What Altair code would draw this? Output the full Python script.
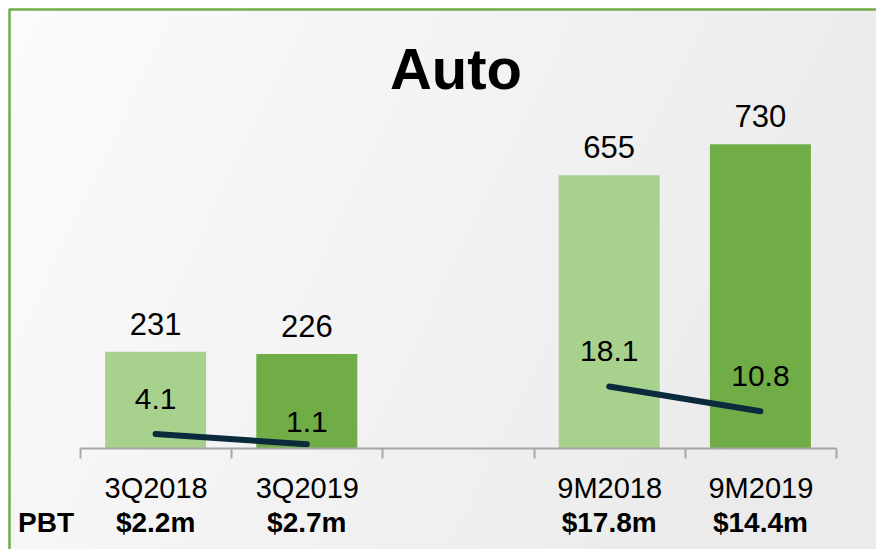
import altair as alt
import pandas as pd

categories = ["3Q2018", "3Q2019", " ", "9M2018", "9M2019"]
revenue = [231, 226, None, 655, 730]
pbt_margin = [4.1, 1.1, None, 18.1, 10.8]
pbt_labels = ["$2.2m", "$2.7m", "", "$17.8m", "$14.4m"]
period = ["3Q", "3Q", "", "9M", "9M"]
year = ["2018", "2019", "", "2018", "2019"]

df = pd.DataFrame({
    "cat": categories,
    "revenue": revenue,
    "margin": pbt_margin,
    "pbt": pbt_labels,
    "period": period,
    "year": year,
})

W, H = 756, 333
PL, PT, PR, PB = 72, 107, 40, 101

FONT = "Liberation Sans, Arial"

base = alt.Chart(df)

xscale = alt.Scale(domain=categories, paddingInner=0, paddingOuter=0)

xenc = alt.X(
    "cat:N",
    title=None,
    scale=xscale,
    axis=alt.Axis(
        domainColor="#a6a6a6", domainWidth=2, tickColor="#a6a6a6", tickWidth=2,
        tickSize=10, tickBand="extent", labelAngle=0, labelFont=FONT,
        labelFontSize=29, labelColor="#000000", labelBaseline="alphabetic",
        labelPadding=39, zindex=2,
    ),
)
xplain = alt.X("cat:N", scale=xscale, title=None)

ybar = alt.Y("revenue:Q", scale=alt.Scale(domain=[0, 800]), axis=None)
yline = alt.Y("margin:Q", scale=alt.Scale(domain=[0, 98]), axis=None)

bg = alt.Chart(pd.DataFrame({"a": [0]})).mark_rect(
    fill=alt.Gradient(
        gradient="linear",
        stops=[alt.GradientStop(color="#fbfbfb", offset=0),
               alt.GradientStop(color="#ebebeb", offset=1)],
        x1=0, x2=1, y1=0, y2=0.3,
    )
).encode(
    x=alt.value(-PL), x2=alt.value(W + PR),
    y=alt.value(-PT), y2=alt.value(H + PB),
)

border_left = alt.Chart(pd.DataFrame({"a": [0]})).mark_rule(
    color="#70ad47", strokeWidth=2.5
).encode(x=alt.value(-PL + 1.5), y=alt.value(-PT + 1), y2=alt.value(H + PB))

border_top = alt.Chart(pd.DataFrame({"a": [0]})).mark_rule(
    color="#70ad47", strokeWidth=2.5
).encode(y=alt.value(-PT + 1.5), x=alt.value(-PL + 1), x2=alt.value(W + PR))

valid = base.transform_filter("isValid(datum.revenue)")

bars = valid.mark_bar(width=alt.RelativeBandSize(0.668)).encode(
    x=xenc,
    y=ybar,
    color=alt.Color("year:N", scale=alt.Scale(domain=["2018", "2019"],
                                               range=["#a9d18e", "#70ad47"]),
                    legend=None),
)

bar_labels = valid.mark_text(
    font=FONT, fontSize=31, baseline="alphabetic", dy=-17, color="#000000"
).encode(x=xplain, y=ybar, text=alt.Text("revenue:Q", format="d"))

line = valid.mark_line(
    color="#0b2a3c", strokeWidth=6, strokeCap="round"
).encode(x=xplain, y=yline, detail="period:N")

line_labels = valid.transform_filter("datum.margin >= 2").mark_text(
    font=FONT, fontSize=30, baseline="alphabetic", dy=-25, color="#000000"
).encode(x=xplain, y=yline, text=alt.Text("margin:Q", format=".1f"))

line_labels_low = valid.transform_filter("datum.margin < 2").mark_text(
    font=FONT, fontSize=30, baseline="alphabetic", dy=-12, color="#000000"
).encode(x=xplain, y=yline, text=alt.Text("margin:Q", format=".1f"))

pbt_row = valid.mark_text(
    font=FONT, fontSize=28, fontWeight="bold", baseline="alphabetic", color="#000000"
).encode(x=xplain, y=alt.value(417), text="pbt:N")

pbt_head = alt.Chart(pd.DataFrame({"t": ["PBT"]})).mark_text(
    font=FONT, fontSize=28, fontWeight="bold", baseline="alphabetic", color="#000000"
).encode(x=alt.value(-34), y=alt.value(417), text="t:N")

title = alt.Chart(pd.DataFrame({"t": ["Auto"]})).mark_text(
    font=FONT, fontSize=58, fontWeight="bold", baseline="alphabetic", color="#000000"
).encode(x=alt.value(376), y=alt.value(-26), text="t:N")

chart = alt.layer(
    bg, border_left, border_top, bars, bar_labels, line, line_labels,
    line_labels_low, pbt_row, pbt_head, title,
).resolve_scale(y="independent").properties(
    width=W, height=H,
    autosize=alt.AutoSizeParams(type="none"),
    padding={"left": PL, "top": PT, "right": PR, "bottom": PB},
).configure_view(stroke=None).configure(background="#f4f4f4")

chart.save("out.html", embed_options={"renderer": "svg", "actions": False})
